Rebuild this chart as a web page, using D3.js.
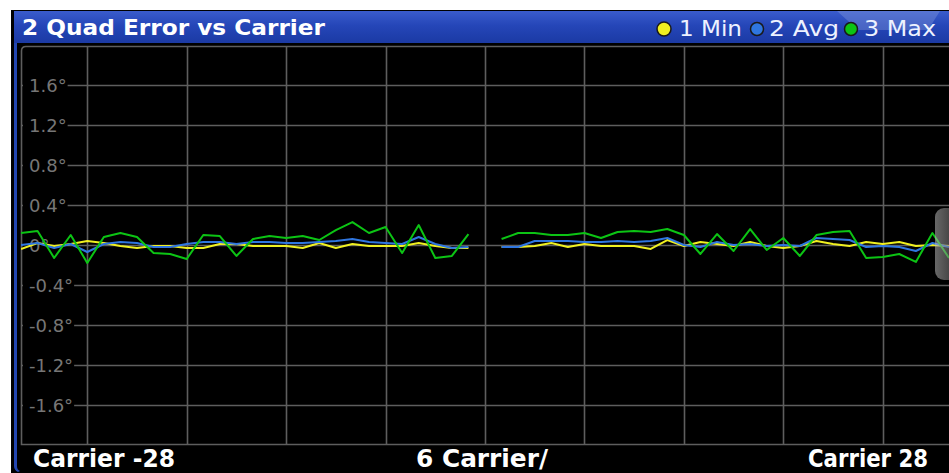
<!DOCTYPE html>
<html>
<head>
<meta charset="utf-8">
<script src="https://cdn.jsdelivr.net/npm/d3@7"></script>
<style>
  html, body { margin: 0; padding: 0; background: #fff; }
  svg { display: block; }
</style>
</head>
<body>
<div id="chart"></div>
<script>
(function () {
  'use strict';

  /* -----------------------------------------------------------
     Data — quad error per carrier (degrees), carrier 0 is DC (no value)
  ----------------------------------------------------------- */
  var carriers = [-28, -27, -26, -25, -24, -23, -22, -21, -20, -19, -18, -17, -16, -15,
                  -14, -13, -12, -11, -10, -9, -8, -7, -6, -5, -4, -3, -2, -1, 0,
                  1, 2, 3, 4, 5, 6, 7, 8, 9, 10, 11, 12, 13, 14,
                  15, 16, 17, 18, 19, 20, 21, 22, 23, 24, 25, 26, 27, 28];

  var minVals = [-0.04, 0.02, -0.01, 0.01, 0.04, 0.02, -0.01, -0.03, -0.01, -0.01, -0.03, -0.03, 0.01, 0.01,
                 -0.01, -0.01, -0.01, -0.03, 0.02, -0.03, 0.01, -0.01, -0.01, -0.01, 0.02, -0.01, -0.03, -0.03, null,
                 -0.02, -0.02, -0.01, 0.02, -0.02, 0.01, -0.01, -0.01, -0.01, -0.04, 0.05, -0.01, 0.03, 0.01,
                 -0.01, 0.03, -0.01, -0.03, -0.01, 0.04, 0.01, -0.01, 0.03, 0.01, 0.03, -0.01, 0.00, -0.01];

  var avgVals = [0.00, 0.02, -0.03, 0.01, -0.07, 0.01, 0.03, 0.02, -0.02, -0.02, 0.01, 0.03, 0.03, 0.01,
                 0.03, 0.03, 0.02, 0.02, 0.03, 0.04, 0.06, 0.03, 0.02, 0.01, 0.08, 0.01, -0.03, -0.02, null,
                 -0.02, -0.02, 0.04, 0.04, 0.04, 0.03, 0.03, 0.04, 0.03, 0.04, 0.07, 0.00, -0.02, 0.03,
                 0.00, 0.01, -0.01, 0.00, -0.01, 0.07, 0.06, 0.05, -0.02, -0.01, -0.02, -0.06, 0.02, -0.02];

  var maxVals = [0.12, 0.14, -0.13, 0.10, -0.18, 0.08, 0.12, 0.08, -0.08, -0.09, -0.14, 0.10, 0.09, -0.11,
                 0.06, 0.09, 0.07, 0.09, 0.05, 0.15, 0.23, 0.12, 0.18, -0.08, 0.20, -0.13, -0.11, 0.11, null,
                 0.06, 0.12, 0.12, 0.10, 0.10, 0.12, 0.07, 0.13, 0.14, 0.13, 0.16, 0.10, -0.09, 0.11,
                 -0.06, 0.16, -0.05, 0.07, -0.11, 0.10, 0.13, 0.14, -0.13, -0.12, -0.09, -0.17, 0.12, -0.13];

  var xGridCarriers = [-24, -18, -12, -6, 0, 6, 12, 18, 24];
  var yTicks       = [1.6, 1.2, 0.8, 0.4, 0, -0.4, -0.8, -1.2, -1.6];
  var yTickLabels  = ['1.6°', '1.2°', '0.8°', '0.4°', '0°', '-0.4°', '-0.8°', '-1.2°', '-1.6°'];

  var seriesNames  = ['1 Min', '2 Avg', '3 Max'];
  var seriesColors = ['#f0f020', '#2f76e0', '#0cc414'];
  var bottomLabels = ['Carrier -28', '6 Carrier/', 'Carrier 28'];
  var titleText    = '2 Quad Error vs Carrier';

  /* -----------------------------------------------------------
     Layout
  ----------------------------------------------------------- */
  var W = 949, H = 473;
  var plot = { left: 21, right: 949, top: 46, bottom: 444 };

  var x = d3.scaleLinear().domain([-28, 28]).range([plot.left, plot.right]);
  var y = d3.scaleLinear().domain([-2, 2]).range([444.5, 45.5]);

  var svg = d3.select('#chart').append('svg')
    .attr('width', W).attr('height', H)
    .style('font-family', "'DejaVu Sans', Verdana, sans-serif");

  var defs = svg.append('defs');
  var tg = defs.append('linearGradient').attr('id', 'titleGrad')
    .attr('x1', 0).attr('y1', 0).attr('x2', 0).attr('y2', 1);
  tg.append('stop').attr('offset', '0%').attr('stop-color', '#3a5ccc');
  tg.append('stop').attr('offset', '45%').attr('stop-color', '#2546b8');
  tg.append('stop').attr('offset', '100%').attr('stop-color', '#1b3aa4');

  var gg = defs.append('linearGradient').attr('id', 'grabGrad')
    .attr('x1', 0).attr('y1', 0).attr('x2', 1).attr('y2', 0);
  gg.append('stop').attr('offset', '0%').attr('stop-color', '#bdbdbd');
  gg.append('stop').attr('offset', '40%').attr('stop-color', '#8a8a8a');
  gg.append('stop').attr('offset', '100%').attr('stop-color', '#3c3c3c');

  defs.append('clipPath').attr('id', 'plotClip')
    .append('rect')
    .attr('x', plot.left).attr('y', plot.top)
    .attr('width', plot.right - plot.left).attr('height', plot.bottom - plot.top);

  /* window frame */
  svg.append('rect').attr('width', W).attr('height', H).attr('fill', '#fff');
  svg.append('path')
    .attr('d', 'M11,10 H949 V473 H11 Z')
    .attr('fill', '#000');
  svg.append('path')
    .attr('d', 'M14,11 H17 V466 Q17,470 20,471 L18,472 Q14,470 14,466 Z')
    .attr('fill', '#2346b0');

  /* title bar */
  svg.append('rect')
    .attr('x', 14).attr('y', 11).attr('width', W - 14).attr('height', 32)
    .attr('fill', 'url(#titleGrad)');
  svg.append('path')
    .attr('d', 'M837,11 L940,11 L928,30 L858,30 Z')
    .attr('fill', '#8ea2e0').attr('opacity', 0.35);

  svg.append('text')
    .attr('x', 22).attr('y', 35)
    .attr('fill', '#fff')
    .attr('font-size', 22).attr('font-weight', 'bold')
    .attr('textLength', 303).attr('lengthAdjust', 'spacingAndGlyphs')
    .text(titleText);

  /* legend */
  var legendX   = [664, 757, 851];
  var legendR   = [7, 6.5, 6.5];
  var legendTx  = [679, 769, 864];
  var legendLen = [63, 70, 72];
  seriesNames.forEach(function (name, i) {
    svg.append('circle')
      .attr('cx', legendX[i]).attr('cy', 29).attr('r', legendR[i])
      .attr('fill', seriesColors[i])
      .attr('stroke', '#1a1a1a').attr('stroke-width', 1.5);
    svg.append('text')
      .attr('x', legendTx[i]).attr('y', 36)
      .attr('fill', '#eef2ff')
      .attr('font-size', 22)
      .attr('textLength', legendLen[i]).attr('lengthAdjust', 'spacingAndGlyphs')
      .text(name);
  });

  /* -----------------------------------------------------------
     Grid
  ----------------------------------------------------------- */
  var grid = svg.append('g').attr('stroke', '#5e5e5e').attr('stroke-width', 1.6);

  grid.selectAll('.vgrid')
    .data(xGridCarriers)
    .join('line')
    .attr('class', 'vgrid')
    .attr('x1', function (d) { return Math.round(x(d)) + 0.5; })
    .attr('x2', function (d) { return Math.round(x(d)) + 0.5; })
    .attr('y1', plot.top).attr('y2', plot.bottom);

  grid.selectAll('.hgrid')
    .data(yTicks)
    .join('line')
    .attr('class', 'hgrid')
    .attr('x1', plot.left).attr('x2', plot.right)
    .attr('y1', function (d) { return Math.round(y(d)) + 0.5; })
    .attr('y2', function (d) { return Math.round(y(d)) + 0.5; });

  /* plot frame */
  svg.append('path')
    .attr('d', 'M' + plot.right + ',' + (plot.top + 0.5) + ' H' + (plot.left + 5) +
               ' Q' + (plot.left + 0.5) + ',' + (plot.top + 0.5) + ' ' + (plot.left + 0.5) + ',' + (plot.top + 5) +
               ' V' + (plot.bottom + 0.5) + ' H' + plot.right)
    .attr('fill', 'none').attr('stroke', '#5e5e5e').attr('stroke-width', 1.6);

  /* y tick labels with black knock-out */
  var ylab = svg.append('g');
  yTicks.forEach(function (t, i) {
    var txt = ylab.append('text')
      .attr('x', 29).attr('y', y(t) + 7)
      .attr('fill', '#767676')
      .attr('font-size', 18)
      .text(yTickLabels[i]);
    var bb = txt.node().getBBox();
    ylab.insert('rect', 'text')
      .attr('x', 23).attr('y', y(t) - 3)
      .attr('width', bb.x + bb.width - 23 + 1).attr('height', 6)
      .attr('fill', '#000');
  });

  /* -----------------------------------------------------------
     Traces
  ----------------------------------------------------------- */
  var series = [minVals, avgVals, maxVals];
  var line = d3.line()
    .defined(function (d) { return d.v !== null; })
    .x(function (d) { return x(d.c); })
    .y(function (d) { return y(d.v); });

  var traces = svg.append('g').attr('clip-path', 'url(#plotClip)');
  series.forEach(function (vals, i) {
    var pts = carriers.map(function (c, k) { return { c: c, v: vals[k] }; });
    traces.append('path')
      .datum(pts)
      .attr('fill', 'none')
      .attr('stroke', seriesColors[i])
      .attr('stroke-width', 2)
      .attr('stroke-linejoin', 'round')
      .attr('d', line);
  });

  /* side grabber */
  svg.append('rect')
    .attr('x', 935).attr('y', 208).attr('width', 30).attr('height', 72).attr('rx', 9)
    .attr('fill', 'url(#grabGrad)').attr('opacity', 0.55);

  /* -----------------------------------------------------------
     Bottom labels
  ----------------------------------------------------------- */
  var bx   = [33, 416, 808];
  var blen = [142, 132, 120];
  bottomLabels.forEach(function (lbl, i) {
    svg.append('text')
      .attr('x', bx[i]).attr('y', 467)
      .attr('fill', '#fff')
      .attr('font-size', 24).attr('font-weight', 'bold')
      .attr('textLength', blen[i]).attr('lengthAdjust', 'spacingAndGlyphs')
      .text(lbl);
  });
})();
</script>
</body>
</html>
